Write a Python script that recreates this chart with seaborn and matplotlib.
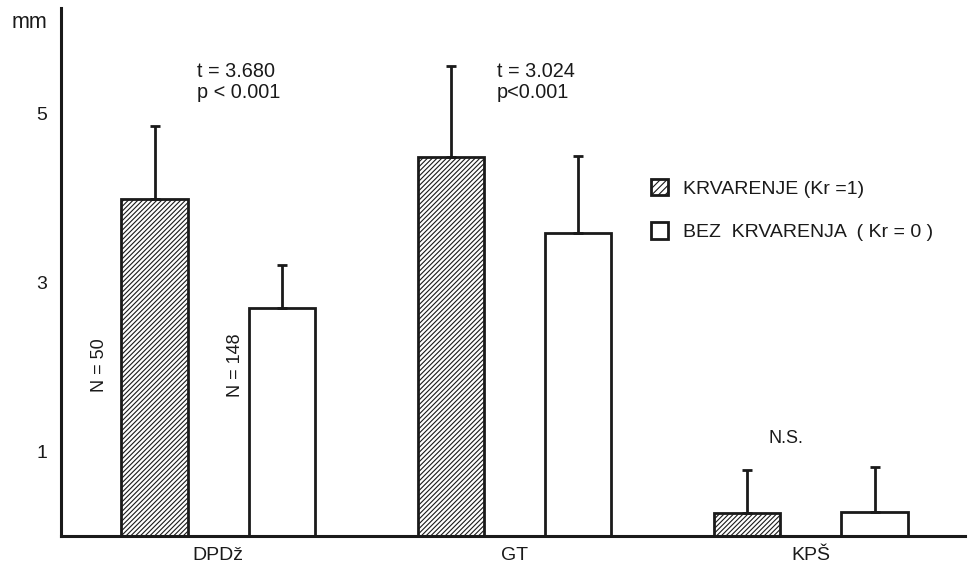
import matplotlib
matplotlib.use("Agg")
import matplotlib.pyplot as plt
from matplotlib.patches import Patch
import seaborn as sns
import pandas as pd

# Mean values (mm) and upper standard deviation per group
categories = ["DPDž", "GT", "KPŠ"]
groups = ["KRVARENJE (Kr=1)", "BEZ KRVARENJA (Kr=0)"]
bleeding_mean = [3.98, 4.48, 0.27]
bleeding_sd = [0.87, 1.08, 0.51]
no_bleeding_mean = [2.69, 3.58, 0.28]
no_bleeding_sd = [0.51, 0.91, 0.54]
stat_labels = ["t = 3.680\np < 0.001", "t = 3.024\np<0.001", "N.S."]
n_labels = ["N = 50", "N = 148"]
legend_labels = ["KRVARENJE (Kr =1)", "BEZ  KRVARENJA  ( Kr = 0 )"]

df = pd.DataFrame({
    "kategorija": categories * 2,
    "grupa": [groups[0]] * 3 + [groups[1]] * 3,
    "mm": bleeding_mean + no_bleeding_mean,
    "sd": bleeding_sd + no_bleeding_sd,
})

sns.set_theme(style="white")
plt.rcParams["font.family"] = ["Liberation Sans", "DejaVu Sans"]
plt.rcParams["hatch.linewidth"] = 0.8

ink = "#1a1a1a"
fig = plt.figure(figsize=(9.68, 5.67), dpi=100)
ax = fig.add_axes([0.063, 0.0547, 0.934, 0.931])

sns.barplot(data=df, x="kategorija", y="mm", hue="grupa", order=categories,
            hue_order=groups, palette=["white", "white"], edgecolor=ink,
            linewidth=2.0, width=0.858, gap=0.48, errorbar=None, legend=False, ax=ax)

for bar in ax.containers[0]:
    bar.set_hatch("///////")

for container, sds in zip(ax.containers, [bleeding_sd, no_bleeding_sd]):
    for bar, sd in zip(container, sds):
        xc = bar.get_x() + bar.get_width() / 2
        h = bar.get_height()
        ax.errorbar(xc, h, yerr=[[0], [sd]], fmt="none", ecolor=ink,
                    elinewidth=2.0, capsize=3.5, capthick=2.0, zorder=1)

ax.set_xlim(-0.53, 2.52)
ax.set_ylim(0, 6.24)
ax.set_yticks([1, 2, 3, 4, 5])
ax.set_yticklabels(["1", "", "3", "", "5"])
ax.tick_params(axis="y", direction="inout", length=10, width=1.2, colors=ink,
               labelsize=14, pad=5)
ax.tick_params(axis="x", length=0, labelsize=14, pad=8, colors=ink)
ax.set_xlabel("")
ax.set_ylabel("")

for side in ["top", "right"]:
    ax.spines[side].set_visible(False)
for side in ["left", "bottom"]:
    ax.spines[side].set_color(ink)
    ax.spines[side].set_linewidth(2.2)

# unit label left of the axis top
ax.text(-0.035, 0.972, "mm", transform=ax.transAxes, fontsize=15.5, ha="center",
        va="center", color=ink)

# statistics above each pair
ax.text(-0.07, 5.37, stat_labels[0], fontsize=14.3, ha="left", va="center",
        linespacing=1.15, color=ink)
ax.text(0.94, 5.37, stat_labels[1], fontsize=14.3, ha="left", va="center",
        linespacing=1.15, color=ink)
ax.text(1.915, 1.15, stat_labels[2], fontsize=13, ha="center", va="center",
        color=ink)

# sample sizes alongside the first pair
ax.text(-0.40, 2.02, n_labels[0], fontsize=13, rotation=90, ha="center", va="center",
        color=ink)
ax.text(0.06, 2.02, n_labels[1], fontsize=13, rotation=90, ha="center", va="center",
        color=ink)

handles = [Patch(facecolor="white", edgecolor=ink, hatch="/////", linewidth=2),
           Patch(facecolor="white", edgecolor=ink, linewidth=2)]
ax.legend(handles, legend_labels, loc="upper left", bbox_to_anchor=(0.653, 0.677),
          frameon=False, fontsize=14, handlelength=0.85, handleheight=0.95,
          labelspacing=1.25, handletextpad=0.8, borderaxespad=0, borderpad=0,
          labelcolor=ink)

fig.savefig("out.png", dpi=100)
